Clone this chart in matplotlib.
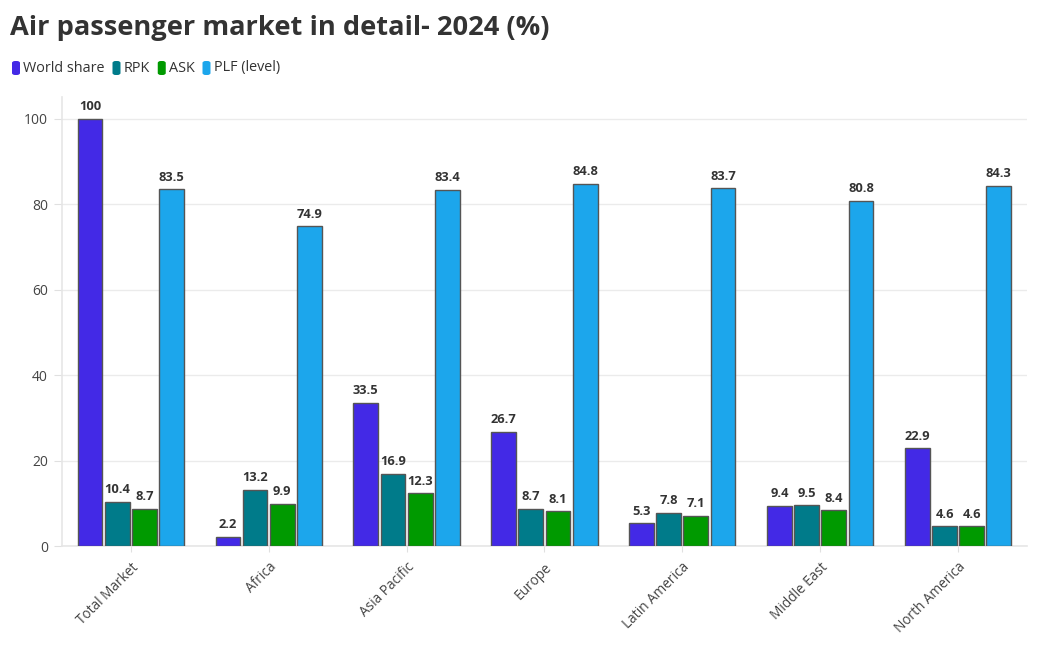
"""Air passenger market in detail - grouped bar chart
"""
import numpy as np
import matplotlib.pyplot as plt
from matplotlib.patches import FancyBboxPatch

plt.rcParams['font.family'] = ['Open Sans', 'DejaVu Sans']

# data
regions = ['Total Market', 'Africa', 'Asia Pacific', 'Europe',
           'Latin America', 'Middle East', 'North America']
world_share = [100, 2.2, 33.5, 26.7, 5.3, 9.4, 22.9]
rpk = [10.4, 13.2, 16.9, 8.7, 7.8, 9.5, 4.6]
ask = [8.7, 9.9, 12.3, 8.1, 7.1, 8.4, 4.6]
plf = [83.5, 74.9, 83.4, 84.8, 83.7, 80.8, 84.3]

series_names = ['World share', 'RPK', 'ASK', 'PLF (level)']
series_colors = ['#4329e6', '#007b8a', '#009a00', '#1ca6ec']

fig = plt.figure(figsize=(10.48, 6.5), dpi=100)
ax = fig.add_axes([0.059, 0.16, 0.921, 0.69])

x = np.arange(len(regions))
width = 0.18
step = 0.197
for i, (vals, col) in enumerate(zip([world_share, rpk, ask, plf], series_colors)):
    pos = x + (i - 1.5) * step
    ax.bar(pos, vals, width=width, color=col, edgecolor='#555555', linewidth=1.0, zorder=3)
    for px, v in zip(pos, vals):
        ax.annotate(f'{v:g}', (px, v), xytext=(0, 4), textcoords='offset points',
                    ha='center', va='bottom', fontsize=9.3, fontweight='bold',
                    color='#333333')

ax.set_xlim(-0.5, len(regions) - 0.5)
ax.set_ylim(0, 105)
ax.set_yticks([0, 20, 40, 60, 80, 100])
ax.set_xticks(x)
ax.set_xticklabels(regions, rotation=45, ha='right', rotation_mode='anchor')
ax.tick_params(axis='x', length=4, color='#e0e0e0', labelsize=9.8, labelcolor='#444444', pad=6)
ax.tick_params(axis='y', length=6, color='#e0e0e0', labelsize=10, labelcolor='#444444', pad=4)
ax.grid(axis='y', color='#ebebeb', linewidth=1, zorder=0)
for side in ['top', 'right']:
    ax.spines[side].set_visible(False)
for side in ['left', 'bottom']:
    ax.spines[side].set_color('#e6e6e6')
    ax.spines[side].set_linewidth(1.2)

# title
fig.text(0.010, 0.957, 'Air passenger market in detail- 2024 (%)', fontsize=19.6,
         fontweight='bold', color='#333333', va='center', ha='left')

# legend with rounded swatches
lx = 12 / 1048
ly = 1 - 68 / 650
for name, col in zip(series_names, series_colors):
    sw = FancyBboxPatch((lx, ly - 7 / 650), 8 / 1048, 14 / 650,
                        boxstyle='round,pad=0,rounding_size=0.003',
                        transform=fig.transFigure, facecolor=col, edgecolor='none')
    fig.patches.append(sw)
    t = fig.text(lx + 11 / 1048, ly, name, fontsize=10.4, color='#333333',
                 va='center', ha='left')
    fig.canvas.draw()
    bb = t.get_window_extent()
    lx = (bb.x1 + 8) / 1048

plt.savefig('out.png', dpi=100)
